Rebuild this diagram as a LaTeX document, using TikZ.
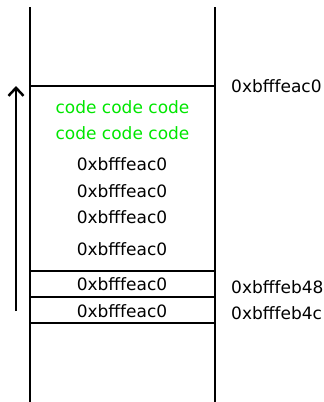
\documentclass[tikz,border=0pt]{standalone}
\usepackage{fontspec}
\setmainfont{DejaVu Sans}
\usetikzlibrary{arrows.meta}
\begin{document}
\begin{tikzpicture}[x=1pt,y=-1pt,
  wall/.style={line width=2.5pt},
  lbl/.style={inner sep=0pt,font=\fontsize{17}{20}\selectfont},
  code/.style={lbl,text={rgb,255:red,0;green,230;blue,0}}]
\useasboundingbox (0,0) rectangle (324,402);
\coordinate (lt) at (30,7); \coordinate (lb) at (30,402);
\coordinate (rt) at (215,7); \coordinate (rb) at (215,402);
\draw[wall] (lt) -- (lb);
\draw[wall] (rt) -- (rb);
\foreach \y/\n in {86/a,271/b,297/c,323/d}{
  \coordinate (h\n l) at (30,\y); \coordinate (h\n r) at (215,\y);
  \draw[wall] (h\n l) -- (h\n r);
}
\coordinate (as) at (16,311); \coordinate (ae) at (16,86);
\draw[line width=2.5pt,-{Straight Barb[length=8pt,width=15pt]}] (as) -- (ae);
\node[code] (c1) at (122.5,107) {code code code};
\node[code] (c2) at (122.5,133) {code code code};
\node[lbl] (v1) at (122,164) {0xbfffeac0};
\node[lbl] (v2) at (122,191) {0xbfffeac0};
\node[lbl] (v3) at (122,217) {0xbfffeac0};
\node[lbl] (v4) at (122,249) {0xbfffeac0};
\node[lbl] (v5) at (122,284) {0xbfffeac0};
\node[lbl] (v6) at (122,311) {0xbfffeac0};
\node[lbl,anchor=west] (r1) at (231,86) {0xbfffeac0};
\node[lbl,anchor=west] (r2) at (231,287) {0xbfffeb48};
\node[lbl,anchor=west] (r3) at (231,313) {0xbfffeb4c};
\end{tikzpicture}
\end{document}
